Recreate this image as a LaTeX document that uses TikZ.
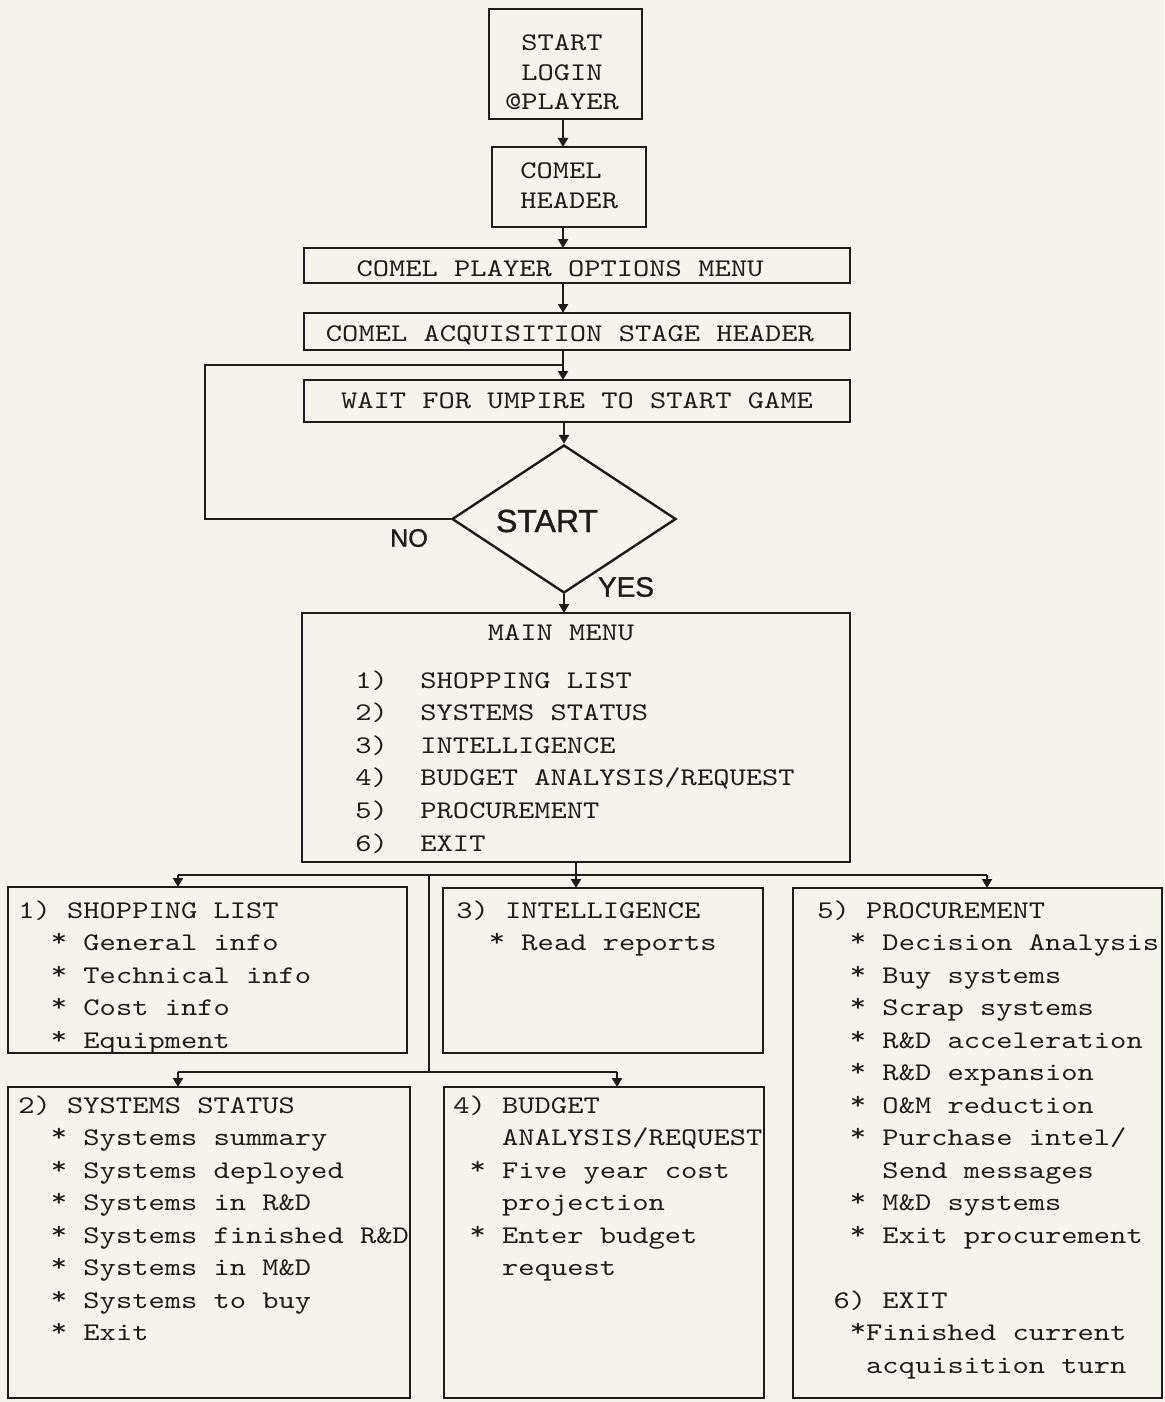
\documentclass[tikz,border=0pt]{standalone}
\usepackage{fontspec}
\setmonofont{lmmono10-regular.otf}[FakeStretch=1.22]
\newfontfamily\lettering{Liberation Sans}[FakeBold=1.2]
\usetikzlibrary{arrows.meta,shapes.geometric,fit}
\definecolor{paper}{RGB}{245,244,236}
\definecolor{ink}{RGB}{28,28,28}
\tikzset{
  frame/.style={draw=ink, line width=1.2pt, inner sep=0pt, outer sep=0pt},
  txt/.style={inner sep=0pt, text=ink, font=\ttfamily\fontsize{12.7pt}{15pt}\selectfont},
  wire/.style={draw=ink, line width=1.2pt},
  arr/.style={wire, -{Triangle[length=4.5pt,width=5pt]}},
  hand/.style={inner sep=0pt, text=ink},
}
% typewriter asterisk sits high on the line
\newcommand\bul{\raisebox{0.35ex}{*}}
% one text node per line: name prefix, left x, first baseline, line pitch, lines
\newcommand\textlines[5]{%
  \foreach \t [count=\i from 0] in {#5} {%
    \node[txt, anchor=base west] (#1\i) at ({#2},{#3+#4*\i}) {\t};}}
\begin{document}
\begin{tikzpicture}[x=0.5pt,y=-0.5pt]
\fill[paper] (0,0) rectangle (1164,1402);
\useasboundingbox (0,0) rectangle (1164,1402);

% ---- entry sequence ----
\node[frame, fit={(489,9) (642,119)}] (b1) {};
\node[txt, anchor=base] (b1a) at (562,51) {START};
\node[txt, anchor=base] (b1b) at (562,81) {LOGIN};
\node[txt, anchor=base] (b1c) at (562,110) {@PLAYER};

\node[frame, fit={(492,147) (646,227)}] (b2) {};
\node[txt, anchor=base west] (b2a) at (520,178) {COMEL};
\node[txt, anchor=base west] (b2b) at (520,208) {HEADER};

\node[frame, fit={(304,248) (850,283)}] (b3) {};
\node[txt, anchor=base] (b3a) at (560,276) {COMEL PLAYER OPTIONS MENU};

\node[frame, fit={(304,313) (850,350)}] (b4) {};
\node[txt, anchor=base] (b4a) at (570,341) {COMEL ACQUISITION STAGE HEADER};

\node[frame, fit={(304,380) (850,422)}] (b5) {};
\node[txt, anchor=base] (b5a) at (577,408) {WAIT FOR UMPIRE TO START GAME};

% ---- decision ----
\node[diamond, draw=ink, line width=1.2pt, minimum width=112pt, minimum height=74pt, inner sep=0pt] (dec) at (564,519) {};
\node[hand, font=\lettering\fontsize{16pt}{16pt}\selectfont] (dectxt) at (547,521) {START};
\node[hand, font=\lettering\fontsize{12.6pt}{12.6pt}\selectfont] (nolbl) at (409,538) {NO};
\node[hand, font=\lettering\fontsize{14pt}{14pt}\selectfont] (yeslbl) at (626,587) {YES};

% ---- main menu ----
\node[frame, fit={(302,613) (850,862)}] (main) {};
\node[txt, anchor=base] (maint) at (561,640) {MAIN MENU};
\textlines{mm}{355}{688}{32.6}{{1)~~SHOPPING LIST},{2)~~SYSTEMS STATUS},{3)~~INTELLIGENCE},{4)~~BUDGET ANALYSIS/REQUEST},{5)~~PROCUREMENT},{6)~~EXIT}}

% ---- sub-menus ----
\node[frame, fit={(8,887) (407,1053)}] (box1) {};
\textlines{sl}{18}{918}{32.5}{{1) SHOPPING LIST},{~~\bul{} General info},{~~\bul{} Technical info},{~~\bul{} Cost info},{~~\bul{} Equipment}}

\node[frame, fit={(443,888) (763,1053)}] (box3) {};
\textlines{in}{456}{918}{32.5}{{3) INTELLIGENCE},{~~\bul{} Read reports}}

\node[frame, fit={(793,888) (1162,1398)}] (box5) {};
\textlines{pr}{817}{918}{32.5}{{5) PROCUREMENT},{~~\bul{} Decision Analysis},{~~\bul{} Buy systems},{~~\bul{} Scrap systems},{~~\bul{} R\&D acceleration},{~~\bul{} R\&D expansion},{~~\bul{} O\&M reduction},{~~\bul{} Purchase intel/},{~~~~Send messages},{~~\bul{} M\&D systems},{~~\bul{} Exit procurement},{},{~6) EXIT},{~~\bul{}Finished current},{~~~acquisition turn}}

\node[frame, fit={(8,1087) (410,1398)}] (box2) {};
\textlines{ss}{18}{1113}{32.5}{{2) SYSTEMS STATUS},{~~\bul{} Systems summary},{~~\bul{} Systems deployed},{~~\bul{} Systems in R\&D},{~~\bul{} Systems finished R\&D},{~~\bul{} Systems in M\&D},{~~\bul{} Systems to buy},{~~\bul{} Exit}}

\node[frame, fit={(444,1087) (764,1398)}] (box4) {};
\textlines{bu}{453}{1113}{32.5}{{4) BUDGET},{~~~ANALYSIS/REQUEST},{~\bul{} Five year cost},{~~~projection},{~\bul{} Enter budget},{~~~request}}

% ---- connectors: entry spine ----
\coordinate (spine) at (563,0);
\draw[arr] (b1.south -| spine) -- (b2.north -| spine);
\draw[arr] (b2.south -| spine) -- (b3.north -| spine);
\draw[arr] (b3.south -| spine) -- (b4.north -| spine);
\draw[arr] (b4.south -| spine) -- (b5.north -| spine);
\draw[arr] (b5.south -| dec.north) -- (dec.north);
\draw[arr] (dec.south) -- (main.north -| dec.south);

% NO branch loops back above the wait box
\coordinate (loopL) at (205,365);
\coordinate (loopJ) at (563,365);
\draw[wire] (dec.west) -| (loopL) -- (loopJ);

% ---- connectors: menu distribution ----
\coordinate (busC) at (576,875);
\coordinate (busL) at (178,875);
\coordinate (busR) at (987,875);
\coordinate (tap) at (429,875);
\coordinate (tap2) at (429,1072);
\coordinate (bus2L) at (178,1072);
\coordinate (bus2R) at (617,1072);
\draw[wire] (main.south -| busC) -- (busC);
\draw[wire] (busL) -- (busR);
\draw[arr] (busL) -- (box1.north -| busL);
\draw[arr] (busC) -- (box3.north -| busC);
\draw[arr] (busR) -- (box5.north -| busR);
\draw[wire] (tap) -- (tap2);
\draw[wire] (bus2L) -- (bus2R);
\draw[arr] (bus2L) -- (box2.north -| bus2L);
\draw[arr] (bus2R) -- (box4.north -| bus2R);
\end{tikzpicture}
\end{document}
